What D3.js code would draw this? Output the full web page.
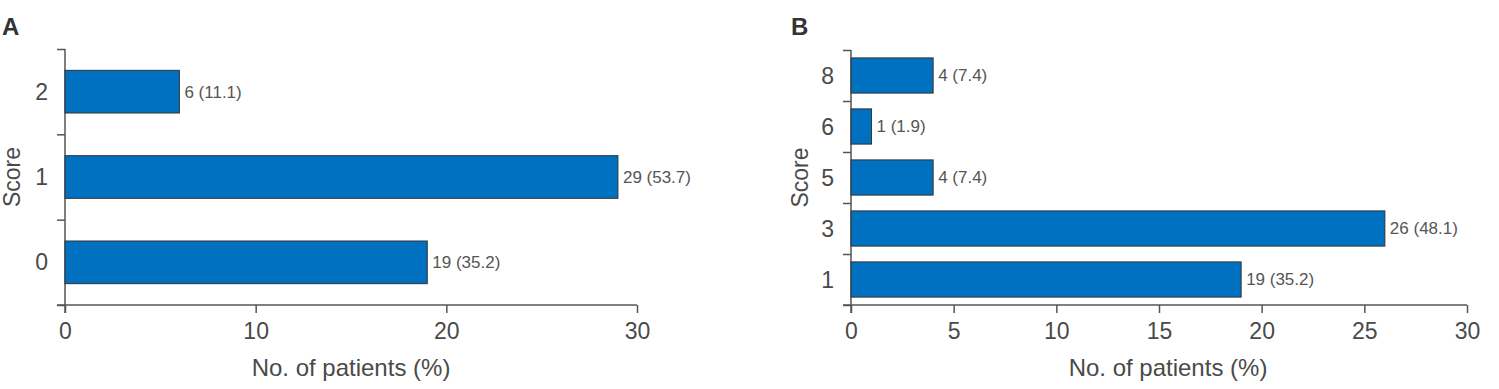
<!DOCTYPE html>
<html>
<head>
<meta charset="utf-8">
<script src="https://cdn.jsdelivr.net/npm/d3@7"></script>
<style>
  body { margin: 0; background: #fff; }
  text { font-family: "Liberation Sans", Arial, sans-serif; }
</style>
</head>
<body>
<div id="chart"></div>
<script>
// panel A data
var scoresA = ["0", "1", "2"];
var countsA = [19, 29, 6];
var pctA = [35.2, 53.7, 11.1];
var ticksA = [0, 10, 20, 30];

// panel B data
var scoresB = ["1", "3", "5", "6", "8"];
var countsB = [19, 26, 4, 1, 4];
var pctB = [35.2, 48.1, 7.4, 1.9, 7.4];
var ticksB = [0, 5, 10, 15, 20, 25, 30];

var width = 1499, height = 389;
var barFill = "#0070c0";
var axisColor = "#555";
var textColor = "#4a4a4a";

var svg = d3.select("#chart")
  .append("svg")
  .attr("width", width)
  .attr("height", height);

function panel(opt) {
  var g = svg.append("g");
  var n = opt.scores.length;

  var x = d3.scaleLinear()
    .domain([0, 30])
    .range([opt.left, opt.right]);

  // bands bottom to top
  var y = d3.scaleBand()
    .domain(opt.scores)
    .range([opt.bottom, opt.top])
    .paddingInner(opt.pad)
    .paddingOuter(opt.pad / 2);

  // boundary ticks on the y axis
  var yb = d3.scaleLinear().domain([0, n]).range([opt.bottom, opt.top]);
  var yAxis = g.append("g")
    .attr("transform", "translate(" + opt.left + ",0)")
    .call(d3.axisLeft(yb).tickValues(d3.range(n + 1)).tickFormat("").tickSize(8));
  yAxis.select(".domain").remove();
  yAxis.selectAll("line").attr("stroke", axisColor).attr("stroke-width", 1.5);

  var xAxis = g.append("g")
    .attr("transform", "translate(0," + opt.bottom + ")")
    .call(d3.axisBottom(x).tickValues(opt.ticks).tickSize(8).tickPadding(10));
  xAxis.select(".domain").remove();
  xAxis.selectAll("line").attr("stroke", axisColor).attr("stroke-width", 1.5);
  xAxis.selectAll("text")
    .attr("fill", textColor)
    .style("font-size", "23px")
    .style("font-family", "'Liberation Sans', Arial, sans-serif");

  // axis lines
  g.append("line")
    .attr("x1", opt.left).attr("x2", opt.left)
    .attr("y1", opt.top).attr("y2", opt.bottom + 8)
    .attr("stroke", axisColor).attr("stroke-width", 1.5);
  g.append("line")
    .attr("x1", opt.left - 8).attr("x2", opt.right)
    .attr("y1", opt.bottom).attr("y2", opt.bottom)
    .attr("stroke", axisColor).attr("stroke-width", 1.5);

  // category labels
  g.selectAll(".cat")
    .data(opt.scores)
    .enter()
    .append("text")
    .attr("class", "cat")
    .attr("x", opt.left - 17)
    .attr("y", function(d) { return y(d) + y.bandwidth() / 2; })
    .attr("dy", "0.35em")
    .attr("text-anchor", "end")
    .attr("fill", textColor)
    .style("font-size", "23px")
    .text(function(d) { return d; });

  // bars
  g.selectAll(".bar")
    .data(opt.counts)
    .enter()
    .append("rect")
    .attr("class", "bar")
    .attr("x", x(0))
    .attr("y", function(d, i) { return y(opt.scores[i]); })
    .attr("width", function(d) { return x(d) - x(0); })
    .attr("height", y.bandwidth())
    .attr("fill", barFill)
    .attr("stroke", "#333")
    .attr("stroke-width", 1);

  // value labels
  g.selectAll(".val")
    .data(opt.counts)
    .enter()
    .append("text")
    .attr("class", "val")
    .attr("x", function(d) { return x(d) + 5; })
    .attr("y", function(d, i) { return y(opt.scores[i]) + y.bandwidth() / 2; })
    .attr("dy", "0.35em")
    .attr("fill", "#555")
    .style("font-size", "17px")
    .text(function(d, i) { return d + " (" + opt.pct[i].toFixed(1) + ")"; });

  // titles
  g.append("text")
    .attr("x", (opt.left + opt.right) / 2 + opt.titleShift)
    .attr("y", 376)
    .attr("text-anchor", "middle")
    .attr("fill", textColor)
    .style("font-size", "24px")
    .text("No. of patients (%)");

  g.append("text")
    .attr("transform", "translate(" + opt.scoreX + "," + (opt.top + opt.bottom) / 2 + ") rotate(-90)")
    .attr("text-anchor", "middle")
    .attr("fill", textColor)
    .style("font-size", "23px")
    .text("Score");

  g.append("text")
    .attr("x", opt.letterX)
    .attr("y", 35)
    .attr("fill", "#333")
    .style("font-size", "24px")
    .style("font-weight", "bold")
    .text(opt.letter);
}

panel({
  letter: "A", letterX: 2,
  scores: scoresA, counts: countsA, pct: pctA, ticks: ticksA,
  left: 65, right: 637, top: 49, bottom: 305,
  pad: 0.5, scoreX: 20, titleShift: 0
});

panel({
  letter: "B", letterX: 791,
  scores: scoresB, counts: countsB, pct: pctB, ticks: ticksB,
  left: 851, right: 1467, top: 50, bottom: 305,
  pad: 0.31, scoreX: 808, titleShift: 9
});
</script>
</body>
</html>
